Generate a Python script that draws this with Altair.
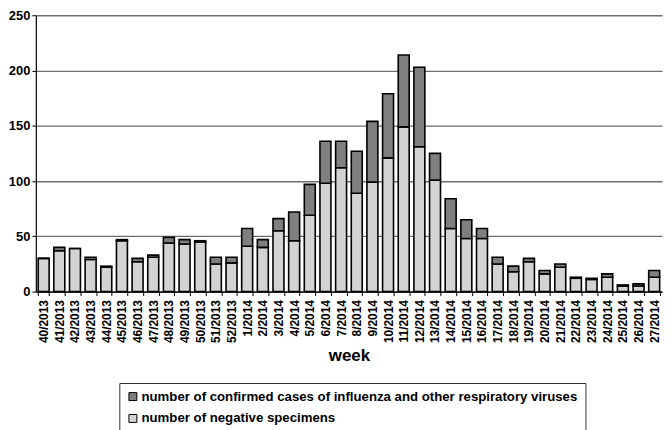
import altair as alt
import pandas as pd

weeks = ["40/2013", "41/2013", "42/2013", "43/2013", "44/2013", "45/2013", "46/2013",
         "47/2013", "48/2013", "49/2013", "50/2013", "51/2013", "52/2013",
         "1/2014", "2/2014", "3/2014", "4/2014", "5/2014", "6/2014", "7/2014", "8/2014",
         "9/2014", "10/2014", "11/2014", "12/2014", "13/2014", "14/2014", "15/2014",
         "16/2014", "17/2014", "18/2014", "19/2014", "20/2014", "21/2014", "22/2014",
         "23/2014", "24/2014", "25/2014", "26/2014", "27/2014"]
negative = [30, 37, 39, 29, 22, 46, 27, 31, 44, 43, 45, 25, 26,
            41, 40, 55, 46, 69, 98, 112, 89, 99, 121, 149, 131, 101, 57, 48,
            48, 25, 18, 27, 16, 22, 12, 11, 13, 5, 5, 13]
confirmed = [0, 3, 0, 2, 1, 1, 3, 2, 5, 4, 1, 6, 5,
             16, 7, 11, 26, 28, 38, 24, 38, 55, 58, 65, 72, 24, 27, 17,
             9, 6, 5, 3, 3, 3, 1, 1, 3, 1, 2, 6]

lab_conf = "number of confirmed cases of influenza and other respiratory viruses"
lab_neg = "number of negative specimens"

rows = []
for w, n, c in zip(weeks, negative, confirmed):
    rows.append({"week": w, "series": lab_neg, "value": n, "ord": 0})
    rows.append({"week": w, "series": lab_conf, "value": c, "ord": 1})
df = pd.DataFrame(rows)

FONT = "Liberation Sans"

chart = alt.Chart(df).mark_bar(stroke="black", strokeWidth=1.6).encode(
    x=alt.X("week:N", sort=weeks, title="week",
            scale=alt.Scale(paddingInner=0.3, paddingOuter=0.15),
            axis=alt.Axis(labelAngle=270, labelFont=FONT, labelFontWeight="bold",
                          labelFontSize=12, labelColor="black", labelPadding=4,
                          titleFont=FONT, titleFontWeight="bold", titleFontSize=17,
                          titleColor="black", titlePadding=5,
                          domainColor="black", domainWidth=1.2,
                          tickColor="black", tickBand="extent", tickSize=4,
                          labelAlign="right", labelBaseline="middle")),
    y=alt.Y("value:Q", stack="zero", title=None,
            scale=alt.Scale(domain=[0, 250], nice=False),
            axis=alt.Axis(values=[0, 50, 100, 150, 200, 250], labelFont=FONT,
                          labelFontWeight="bold", labelFontSize=13, labelColor="black",
                          domainColor="black", domainWidth=1.2, tickColor="black",
                          tickSize=4, gridColor="#6e6e6e", gridWidth=1.4)),
    fill=alt.Fill("series:N",
                  scale=alt.Scale(domain=[lab_conf, lab_neg], range=["#7f7f7f", "#d3d3d3"]),
                  legend=alt.Legend(title=None, orient="none", legendX=84, legendY=370,
                                    direction="vertical", strokeColor="#333333",
                                    padding=7, rowPadding=8, symbolType="square",
                                    symbolSize=64, symbolStrokeColor="black",
                                    symbolStrokeWidth=1, labelFont=FONT,
                                    labelFontWeight="bold", labelFontSize=13.3,
                                    labelColor="black", labelLimit=600,
                                    symbolOffset=0, labelOffset=2)),
    order=alt.Order("ord:Q", sort="ascending"),
).properties(width=630, height=278, padding={"left": 0, "top": 0, "right": 2, "bottom": 0}
).configure_view(stroke=None)

chart.save("out.html", embed_options={"renderer": "svg", "actions": False})
